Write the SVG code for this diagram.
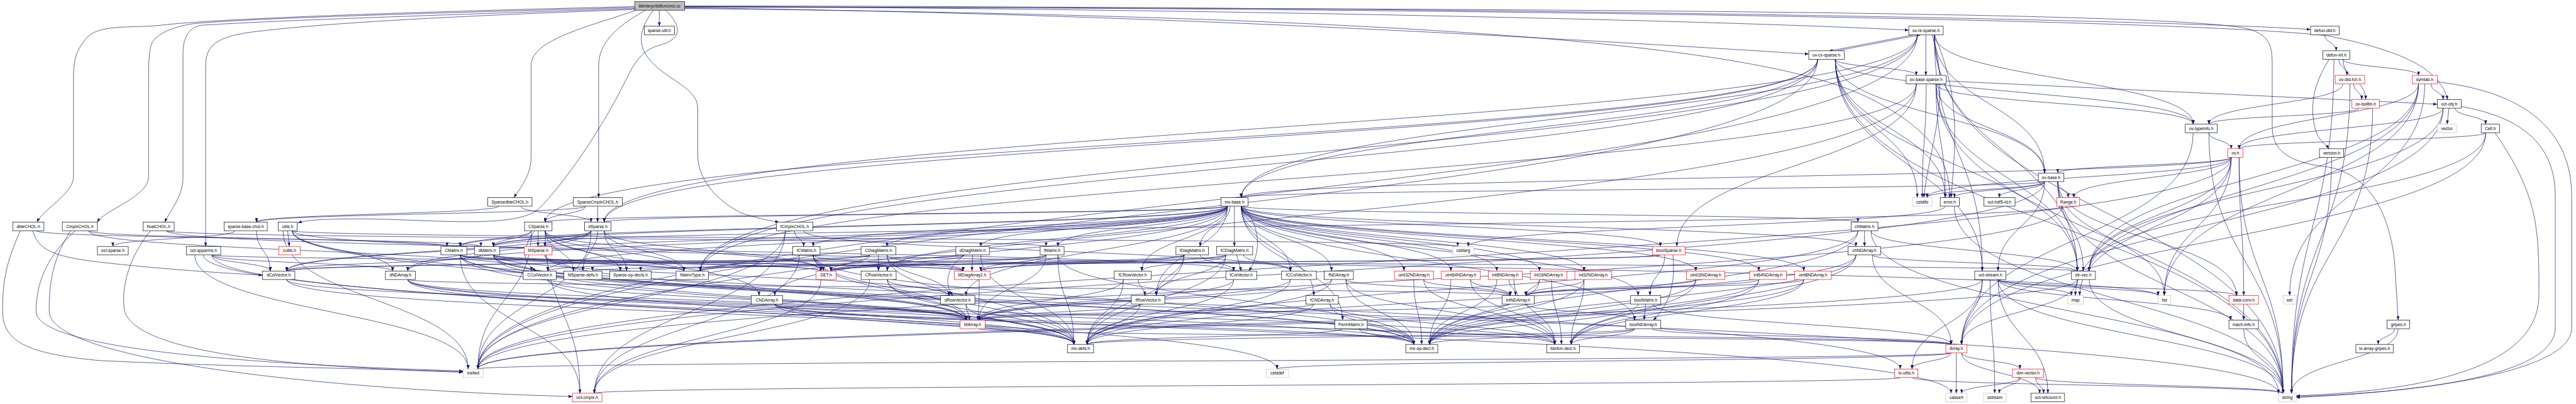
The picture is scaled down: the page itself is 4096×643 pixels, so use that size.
<svg xmlns="http://www.w3.org/2000/svg" width="4096" height="643" viewBox="0 0 4096 643">
<style>
.n rect{fill:#fff;stroke:#000;stroke-width:1.3}
.n.r rect{stroke:#f00}
.n.s rect{stroke:#bfbfbf}
.n.root rect{fill:#bfbfbf}
text{font-family:"Liberation Sans",Arial,Helvetica,sans-serif;font-size:13px;text-anchor:middle;fill:#000}
</style>
<defs>
<marker id="ah" viewBox="0 0 12 9" refX="12" refY="4.5" markerWidth="12" markerHeight="9" markerUnits="userSpaceOnUse" orient="auto"><path d="M0,0 L12,4.5 L0,9 z" fill="#191970"/></marker>
</defs>
<rect width="4096" height="643" fill="#fff"/>
<g transform="scale(0.52158)">
<g id="connectors" fill="none" stroke="#191970" stroke-width="1.3" marker-end="url(#ah)">
<path d="M 1935,20 C 1100,40 640,60 500,76 C 400,88 300,70 260,120 C 230,160 224,180 224,250 L 224,540 C 224,590 130,640 113,678"/>
<path d="M 1935,23 C 1100,45 700,60 585,73 C 540,80 470,100 460,140 C 453,170 453,200 453,250 L 453,540 C 453,600 320,640 296,678"/>
<path d="M 1935,26 C 1200,50 800,65 614,77 C 580,82 558,110 558,160 L 558,540 C 558,600 520,640 502,678"/>
<path d="M 1935,29 C 1200,55 900,80 752,100 C 660,115 627,140 627,200 L 627,752"/>
<path d="M 1940,31 C 1800,80 1619,120 1619,200 L 1619,480 C 1619,540 1580,580 1567,603"/>
<path d="M 1968,31 C 1900,70 1825,120 1825,200 L 1825,603"/>
<path d="M 2010,31 L 2010,80"/>
<path d="M 2029,31 C 2080,80 2080,120 2010,138 C 1950,155 1930,200 1900,260 C 1830,400 1720,560 1640,640 C 1560,700 1300,668 1100,668 C 1000,668 940,670 908,680"/>
<path d="M 1992,31 C 1955,80 1945,120 1965,160 C 2010,240 2127,260 2127,330 L 2127,470 C 2127,560 2200,620 2260,650 C 2320,670 2360,675 2375,678"/>
<path d="M 2087,20 C 3500,25 5200,60 5819,92"/>
<path d="M 2087,24 C 3500,40 4800,120 5514,165"/>
<path d="M 2087,18 C 4500,20 6600,60 7044,90"/>
<path d="M 2087,26 C 4500,50 5400,150 5700,300 C 5900,400 5944,500 5944,603"/>
<path d="M 2087,22 C 5000,25 6700,40 6860,90 C 6920,110 6927,140 6927,200 L 6927,390 C 6927,470 7000,500 7100,510 C 7250,540 7290,700 7300,800 L 7311,977"/>
<path d="M 2087,20 C 4500,25 6700,60 7100,110 C 7350,160 7440,220 7462,304"/>
<path d="M 5835,106 L 5575,156"/>
<path d="M 5871,106 L 5871,230"/>
<path d="M 5890,106 C 5950,300 5880,450 5865,603"/>
<path d="M 5897,106 C 5980,300 5960,450 5948,603"/>
<path d="M 5897,106 C 5897,317 6233,317 6233,528"/>
<path d="M 5845,106 C 5845,354 3784,354 3784,603"/>
<path d="M 5897,106 C 5897,466 6333,466 6333,827"/>
<path d="M 5897,106 C 5897,466 6043,466 6043,827"/>
<path d="M 5897,106 C 5897,242 6686,242 6686,379"/>
<path d="M 5845,106 C 5845,392 1842,392 1842,678"/>
<path d="M 5845,106 C 5845,466 2135,466 2135,827"/>
<path d="M 5845,106 C 5845,616 1457,616 1457,1126"/>
<path d="M 5897,106 C 5897,653 6960,653 6960,1200"/>
<path d="M 5600,155 L 5855,106"/>
<path d="M 5595,181 C 5595,205 5842,205 5842,230"/>
<path d="M 5595,181 C 5595,392 5845,392 5845,603"/>
<path d="M 5595,181 C 5595,392 5930,392 5930,603"/>
<path d="M 5595,181 C 5595,354 6233,354 6233,528"/>
<path d="M 5541,181 C 5541,392 3784,392 3784,603"/>
<path d="M 5595,181 C 5595,504 6333,504 6333,827"/>
<path d="M 5595,181 C 5595,504 6043,504 6043,827"/>
<path d="M 5595,181 C 5595,280 6686,280 6686,379"/>
<path d="M 5541,181 C 5541,429 1662,429 1662,678"/>
<path d="M 5541,181 C 5541,429 1842,429 1842,678"/>
<path d="M 5541,181 C 5541,504 2135,504 2135,827"/>
<path d="M 5541,181 C 5541,653 1457,653 1457,1126"/>
<path d="M 5595,181 C 5595,690 6960,690 6960,1200"/>
<path d="M 5872,256 C 5872,429 5860,429 5860,603"/>
<path d="M 5902,256 C 5902,429 5930,429 5930,603"/>
<path d="M 5902,256 C 5902,392 6233,392 6233,528"/>
<path d="M 5902,256 C 5902,541 6333,541 6333,827"/>
<path d="M 5902,256 C 5902,317 6686,317 6686,379"/>
<path d="M 5842,256 C 5842,504 5112,504 5112,752"/>
<path d="M 5842,256 C 5842,541 2135,541 2135,827"/>
<path d="M 5933,247 L 7430,318"/>
<path d="M 5842,256 C 5842,691 1457,691 1457,1126"/>
<path d="M 5902,256 C 5902,728 6960,728 6960,1200"/>
<path d="M 7087,106 C 7087,130 7122,130 7122,155"/>
<path d="M 7130,181 C 7130,205 7155,205 7155,230"/>
<path d="M 7143,181 C 7143,242 7212,242 7212,304"/>
<path d="M 7143,181 C 7143,205 7373,205 7373,230"/>
<path d="M 7101,181 C 7050,260 7040,330 7060,400 C 7070,430 7090,440 7100,454"/>
<path d="M 7115,181 C 7115,690 6986,690 6986,1200"/>
<path d="M 7175,256 C 7175,280 7200,280 7200,304"/>
<path d="M 7142,256 C 7142,317 6734,317 6734,379"/>
<path d="M 7164,256 C 7164,728 6986,728 6986,1200"/>
<path d="M 7411,256 C 7411,280 7448,280 7448,304"/>
<path d="M 7373,256 C 7373,355 6826,355 6826,454"/>
<path d="M 7373,256 C 7373,579 6598,579 6598,902"/>
<path d="M 7373,256 C 7373,579 6327,579 6327,902"/>
<path d="M 7392,256 C 7392,579 6980,579 6980,902"/>
<path d="M 7430,250 C 7700,280 7840,400 7840,600 L 7840,1000 C 7840,1150 7300,1200 7000,1213"/>
<path d="M 7373,256 C 7373,541 6369,541 6369,827"/>
<path d="M 7191,330 C 7191,354 6734,354 6734,379"/>
<path d="M 7233,330 C 7233,765 6986,765 6986,1200"/>
<path d="M 7466,330 L 7460,379"/>
<path d="M 7484,330 C 7484,354 7578,354 7578,379"/>
<path d="M 7448,330 C 7448,392 6826,392 6826,454"/>
<path d="M 7448,330 C 7448,690 5980,690 5980,1051"/>
<path d="M 7448,330 C 7448,578 6369,578 6369,827"/>
<path d="M 7503,325 C 7700,360 7790,450 7790,600 L 7790,1000 C 7790,1160 7300,1200 7000,1210"/>
<path d="M 7578,405 C 7578,429 6826,429 6826,454"/>
<path d="M 7578,405 C 7578,728 5980,728 5980,1051"/>
<path d="M 7578,405 C 7578,616 6369,616 6369,827"/>
<path d="M 7606,405 C 7740,600 7740,700 7740,900 C 7740,1150 7300,1195 7000,1208"/>
<path d="M 6734,405 C 6734,429 6802,429 6802,454"/>
<path d="M 6686,405 C 6686,728 5980,728 5980,1051"/>
<path d="M 6734,405 C 6734,802 6960,802 6960,1200"/>
<path d="M 6802,480 C 6802,504 6273,504 6273,528"/>
<path d="M 6802,480 C 6802,541 5875,541 5875,603"/>
<path d="M 6802,480 C 6802,541 6322,541 6322,603"/>
<path d="M 6826,480 C 6826,691 6840,691 6840,902"/>
<path d="M 6802,480 C 6802,541 3784,541 3784,603"/>
<path d="M 6802,480 C 6802,653 6369,653 6369,827"/>
<path d="M 6802,480 C 6802,691 6598,691 6598,902"/>
<path d="M 6802,480 C 6802,691 6340,691 6340,902"/>
<path d="M 6802,480 C 6802,803 1457,803 1457,1126"/>
<path d="M 6826,480 C 6826,840 6960,840 6960,1200"/>
<path d="M 7108,480 C 7108,840 6986,840 6986,1200"/>
<path d="M 6233,554 C 6233,578 5875,578 5875,603"/>
<path d="M 6233,554 C 6233,578 5958,578 5958,603"/>
<path d="M 6233,554 C 6233,578 6095,578 6095,603"/>
<path d="M 6273,554 C 6273,578 6305,578 6305,603"/>
<path d="M 6233,554 C 6233,578 3784,578 3784,603"/>
<path d="M 6273,554 C 6273,690 6351,690 6351,827"/>
<path d="M 6273,554 C 6273,728 6818,728 6818,902"/>
<path d="M 6273,554 C 6273,728 6598,728 6598,902"/>
<path d="M 6233,554 C 6233,840 1457,840 1457,1126"/>
<path d="M 6273,554 C 6273,877 6960,877 6960,1200"/>
<path d="M 6233,554 C 6233,690 6091,690 6091,827"/>
<path d="M 6288,629 C 6288,690 1504,690 1504,752"/>
<path d="M 6288,629 C 6288,877 1457,877 1457,1126"/>
<path d="M 1520,629 C 1520,653 782,653 782,678"/>
<path d="M 1588,629 C 1588,653 1802,653 1802,678"/>
<path d="M 1785,629 C 1785,653 782,653 782,678"/>
<path d="M 1822,629 L 1822,678"/>
<path d="M 1785,629 C 1785,653 1662,653 1662,678"/>
<path d="M 3784,629 C 3784,765 4994,765 4994,902"/>
<path d="M 3784,629 C 3784,653 5664,653 5664,678"/>
<path d="M 3742,629 C 3742,690 1504,690 1504,752"/>
<path d="M 3742,629 C 3742,690 1403,690 1403,752"/>
<path d="M 3742,629 C 3742,690 3225,690 3225,752"/>
<path d="M 3742,629 C 3742,690 2479,690 2479,752"/>
<path d="M 3742,629 C 3742,728 874,728 874,827"/>
<path d="M 3742,629 C 3742,728 1670,728 1670,827"/>
<path d="M 3790,629 C 3850,700 3840,780 3807,827"/>
<path d="M 3784,629 C 3784,728 3934,728 3934,827"/>
<path d="M 3742,629 C 3742,765 2945,765 2945,902"/>
<path d="M 3742,629 C 3742,728 2705,728 2705,827"/>
<path d="M 3742,629 C 3742,765 3525,765 3525,902"/>
<path d="M 3742,629 C 3742,728 3481,728 3481,827"/>
<path d="M 3742,629 C 3742,690 2990,690 2990,752"/>
<path d="M 3742,629 C 3742,690 2704,690 2704,752"/>
<path d="M 3750,629 C 3750,690 3659,690 3659,752"/>
<path d="M 3763,629 L 3763,752"/>
<path d="M 3784,629 C 3784,803 4093,803 4093,977"/>
<path d="M 3784,629 C 3784,803 4983,803 4983,977"/>
<path d="M 3784,629 C 3784,690 5658,690 5658,752"/>
<path d="M 3742,629 C 3742,728 1243,728 1243,827"/>
<path d="M 3742,629 C 3742,765 2362,765 2362,902"/>
<path d="M 3784,629 C 3784,728 4059,728 4059,827"/>
<path d="M 3784,629 C 3784,765 4005,765 4005,902"/>
<path d="M 3784,629 C 3784,728 4563,728 4563,827"/>
<path d="M 3784,629 C 3784,728 4693,728 4693,827"/>
<path d="M 3784,629 C 3784,728 4829,728 4829,827"/>
<path d="M 3784,629 C 3784,728 5362,728 5362,827"/>
<path d="M 3784,629 C 3784,728 5499,728 5499,827"/>
<path d="M 3784,629 C 3784,728 5170,728 5170,827"/>
<path d="M 3784,629 C 3784,728 4280,728 4280,827"/>
<path d="M 3784,629 C 3784,728 4423,728 4423,827"/>
<path d="M 3784,629 C 3784,690 5062,690 5062,752"/>
<path d="M 3742,629 C 3742,653 1662,653 1662,678"/>
<path d="M 3742,629 C 3742,653 1842,653 1842,678"/>
<path d="M 5930,629 C 5930,690 4476,690 4476,752"/>
<path d="M 5958,629 C 5958,914 6960,914 6960,1200"/>
<path d="M 110,704 C 110,728 1466,728 1466,752"/>
<path d="M 100,704 C 120,780 200,790 400,810 C 600,830 780,838 800,840"/>
<path d="M 62,704 C 20,800 8,850 8,950 C 8,1050 100,1080 300,1100 C 700,1120 1200,1125 1412,1135"/>
<path d="M 270,704 C 270,728 1363,728 1363,752"/>
<path d="M 270,704 C 270,765 1620,765 1620,827"/>
<path d="M 216,704 C 150,800 150,900 150,950 C 150,1100 1000,1190 1745,1210"/>
<path d="M 230,704 C 120,800 110,900 110,950 C 110,1060 700,1110 1412,1132"/>
<path d="M 507,704 C 507,728 3189,728 3189,752"/>
<path d="M 507,704 C 507,765 3761,765 3761,827"/>
<path d="M 459,704 C 380,800 370,900 380,950 C 420,1080 900,1120 1412,1136"/>
<path d="M 2422,704 C 2422,728 2450,728 2450,752"/>
<path d="M 2450,704 C 2450,765 3934,765 3934,827"/>
<path d="M 2394,704 C 2394,952 1812,952 1812,1200"/>
<path d="M 2394,704 C 2394,915 1457,915 1457,1126"/>
<path d="M 716,704 C 716,728 344,728 344,752"/>
<path d="M 782,704 C 782,765 824,765 824,827"/>
<path d="M 877,704 L 882,752"/>
<path d="M 891,704 C 891,765 1197,765 1197,827"/>
<path d="M 891,704 C 891,915 5793,915 5793,1126"/>
<path d="M 891,704 C 891,728 4444,728 4444,752"/>
<path d="M 891,704 C 891,803 6579,803 6579,902"/>
<path d="M 891,704 C 891,952 6946,952 6946,1200"/>
<path d="M 863,704 C 863,915 1427,915 1427,1126"/>
<path d="M 1620,704 C 1620,728 1403,728 1403,752"/>
<path d="M 1620,704 C 1620,728 1504,728 1504,752"/>
<path d="M 1662,704 C 1662,803 2314,803 2314,902"/>
<path d="M 1630,704 C 1590,760 1590,800 1635,827"/>
<path d="M 1641,704 L 1640,752"/>
<path d="M 1662,704 C 1662,765 1748,765 1748,827"/>
<path d="M 1662,704 C 1662,765 1891,765 1891,827"/>
<path d="M 1662,704 C 1662,765 2085,765 2085,827"/>
<path d="M 1662,704 C 1662,765 2503,765 2503,827"/>
<path d="M 1662,704 C 1662,952 1768,952 1768,1200"/>
<path d="M 1620,704 C 1620,915 1457,915 1457,1126"/>
<path d="M 1802,704 C 1802,728 1504,728 1504,752"/>
<path d="M 1802,704 C 1802,765 1243,765 1243,827"/>
<path d="M 1802,704 C 1802,765 874,765 874,827"/>
<path d="M 1802,704 C 1802,728 1661,728 1661,752"/>
<path d="M 1822,704 C 1822,765 1777,765 1777,827"/>
<path d="M 1842,704 C 1842,765 1910,765 1910,827"/>
<path d="M 1842,704 C 1842,765 2085,765 2085,827"/>
<path d="M 1842,704 C 1842,765 2503,765 2503,827"/>
<path d="M 1802,704 C 1802,915 1457,915 1457,1126"/>
<path d="M 5684,704 L 5684,752"/>
<path d="M 5704,704 C 5704,765 6333,765 6333,827"/>
<path d="M 5664,704 C 5664,877 3314,877 3314,1051"/>
<path d="M 5664,704 C 5664,877 4358,877 4358,1051"/>
<path d="M 5704,704 C 5704,952 6946,952 6946,1200"/>
<path d="M 646,778 C 646,802 824,802 824,827"/>
<path d="M 646,778 C 646,802 1197,802 1197,827"/>
<path d="M 646,778 C 646,802 6333,802 6333,827"/>
<path d="M 594,778 C 594,952 1427,952 1427,1126"/>
<path d="M 620,778 C 620,989 5948,989 5948,1200"/>
<path d="M 646,778 C 646,952 3893,952 3893,1126"/>
<path d="M 1403,778 C 1403,877 2946,877 2946,977"/>
<path d="M 1403,778 C 1403,802 2936,802 2936,827"/>
<path d="M 1403,778 C 1403,802 2085,802 2085,827"/>
<path d="M 1403,778 C 1403,914 3274,914 3274,1051"/>
<path d="M 1403,778 C 1403,914 4310,914 4310,1051"/>
<path d="M 1403,778 C 1403,989 1768,989 1768,1200"/>
<path d="M 1403,778 C 1403,802 2503,802 2503,827"/>
<path d="M 1504,778 C 1504,877 2946,877 2946,977"/>
<path d="M 1504,778 C 1504,802 2936,802 2936,827"/>
<path d="M 1504,778 C 1504,802 2085,802 2085,827"/>
<path d="M 1504,778 C 1504,914 3274,914 3274,1051"/>
<path d="M 1504,778 C 1504,914 4310,914 4310,1051"/>
<path d="M 1504,778 C 1504,802 2503,802 2503,827"/>
<path d="M 1504,778 C 1504,840 2893,840 2893,902"/>
<path d="M 1466,778 C 1466,802 874,802 874,827"/>
<path d="M 2479,778 C 2479,877 2946,877 2946,977"/>
<path d="M 2479,778 C 2479,802 2936,802 2936,827"/>
<path d="M 2437,778 C 2437,802 2135,802 2135,827"/>
<path d="M 2479,778 C 2479,914 3274,914 3274,1051"/>
<path d="M 2479,778 C 2479,914 4310,914 4310,1051"/>
<path d="M 2437,778 C 2437,989 1812,989 1812,1200"/>
<path d="M 2479,778 C 2479,802 2510,802 2510,827"/>
<path d="M 3189,778 C 3189,877 2984,877 2984,977"/>
<path d="M 3189,778 C 3189,802 2990,802 2990,827"/>
<path d="M 3189,778 C 3189,802 2135,802 2135,827"/>
<path d="M 3225,778 C 3225,914 3274,914 3274,1051"/>
<path d="M 3225,778 C 3225,914 4310,914 4310,1051"/>
<path d="M 3189,778 C 3189,802 2533,802 2533,827"/>
<path d="M 1661,778 C 1661,877 2946,877 2946,977"/>
<path d="M 1661,778 C 1661,802 1748,802 1748,827"/>
<path d="M 2704,778 C 2704,802 2936,802 2936,827"/>
<path d="M 2678,778 L 2678,827"/>
<path d="M 2652,778 C 2652,802 1670,802 1670,827"/>
<path d="M 2704,778 C 2704,840 2893,840 2893,902"/>
<path d="M 2652,778 C 2652,802 874,802 874,827"/>
<path d="M 2652,778 C 2652,802 2533,802 2533,827"/>
<path d="M 2704,778 C 2704,914 3274,914 3274,1051"/>
<path d="M 2965,778 L 2963,827"/>
<path d="M 2940,778 C 2880,820 2880,870 2905,902"/>
<path d="M 2940,778 C 2940,802 874,802 874,827"/>
<path d="M 2940,778 C 2940,802 2533,802 2533,827"/>
<path d="M 2990,778 C 2990,914 3274,914 3274,1051"/>
<path d="M 3609,778 C 3609,802 2990,802 2990,827"/>
<path d="M 3609,778 C 3609,840 3525,840 3525,902"/>
<path d="M 3659,778 C 3659,802 3761,802 3761,827"/>
<path d="M 3609,778 C 3609,802 2533,802 2533,827"/>
<path d="M 3609,778 C 3609,914 3314,914 3314,1051"/>
<path d="M 3737,778 C 3737,802 2990,802 2990,827"/>
<path d="M 3737,778 C 3737,840 3525,840 3525,902"/>
<path d="M 3737,778 C 3737,802 3481,802 3481,827"/>
<path d="M 3770,778 L 3784,827"/>
<path d="M 3791,778 C 3791,802 3934,802 3934,827"/>
<path d="M 3737,778 C 3737,802 2533,802 2533,827"/>
<path d="M 3737,778 C 3737,914 3314,914 3314,1051"/>
<path d="M 5075,778 C 5075,840 5030,840 5030,902"/>
<path d="M 5100,778 C 5110,880 5080,940 5040,977"/>
<path d="M 5062,778 C 5062,802 1806,802 1806,827"/>
<path d="M 5062,778 C 5062,802 1953,802 1953,827"/>
<path d="M 5708,778 C 5708,914 5948,914 5948,1051"/>
<path d="M 5708,778 C 5708,802 6333,802 6333,827"/>
<path d="M 5658,778 C 5658,914 4358,914 4358,1051"/>
<path d="M 5658,778 C 5658,914 4790,914 4790,1051"/>
<path d="M 5658,778 C 5658,914 3314,914 3314,1051"/>
<path d="M 874,853 C 874,915 2946,915 2946,977"/>
<path d="M 874,853 C 874,952 3274,952 3274,1051"/>
<path d="M 1243,853 C 1243,915 2946,915 2946,977"/>
<path d="M 1243,853 C 1243,877 4604,877 4604,902"/>
<path d="M 1243,853 C 1243,952 3274,952 3274,1051"/>
<path d="M 1243,853 C 1243,952 4310,952 4310,1051"/>
<path d="M 1243,853 C 1243,952 4740,952 4740,1051"/>
<path d="M 1670,853 C 1670,915 2946,915 2946,977"/>
<path d="M 1670,853 C 1670,952 3274,952 3274,1051"/>
<path d="M 2503,853 C 2503,1026 1812,1026 1812,1200"/>
<path d="M 2705,853 C 2705,915 2946,915 2946,977"/>
<path d="M 2705,853 C 2705,877 2893,877 2893,902"/>
<path d="M 2705,853 C 2705,952 3274,952 3274,1051"/>
<path d="M 2651,853 C 2651,1026 1812,1026 1812,1200"/>
<path d="M 2985,853 C 2985,915 2985,940 2980,977"/>
<path d="M 3425,853 C 3425,915 2984,915 2984,977"/>
<path d="M 3470,853 C 3470,877 3490,877 3490,902"/>
<path d="M 3425,853 C 3425,952 3314,952 3314,1051"/>
<path d="M 3761,853 C 3761,915 2984,915 2984,977"/>
<path d="M 3761,853 C 3761,952 3314,952 3314,1051"/>
<path d="M 3934,853 C 3934,915 2984,915 2984,977"/>
<path d="M 3934,853 C 3934,952 3314,952 3314,1051"/>
<path d="M 4059,853 C 4059,915 2984,915 2984,977"/>
<path d="M 4103,853 C 4103,877 4604,877 4604,902"/>
<path d="M 4059,853 C 4059,952 3314,952 3314,1051"/>
<path d="M 4103,853 C 4103,952 4310,952 4310,1051"/>
<path d="M 4103,853 C 4103,952 4740,952 4740,1051"/>
<path d="M 4340,853 C 4340,877 4604,877 4604,902"/>
<path d="M 4310,853 C 4310,952 4334,952 4334,1051"/>
<path d="M 4340,853 C 4340,952 4740,952 4740,1051"/>
<path d="M 4483,853 C 4483,877 4604,877 4604,902"/>
<path d="M 4423,853 C 4423,952 4358,952 4358,1051"/>
<path d="M 4483,853 C 4483,952 4740,952 4740,1051"/>
<path d="M 4600,853 C 4600,877 4620,877 4620,902"/>
<path d="M 4563,853 C 4563,952 4358,952 4358,1051"/>
<path d="M 4615,853 C 4615,952 4740,952 4740,1051"/>
<path d="M 4693,853 C 4693,877 4652,877 4652,902"/>
<path d="M 4693,853 C 4693,952 4358,952 4358,1051"/>
<path d="M 4730,853 C 4730,952 4760,952 4760,1051"/>
<path d="M 4829,853 C 4829,877 4652,877 4652,902"/>
<path d="M 4829,853 C 4829,952 4358,952 4358,1051"/>
<path d="M 4829,853 C 4829,952 4790,952 4790,1051"/>
<path d="M 5170,853 C 5170,877 4652,877 4652,902"/>
<path d="M 5170,853 C 5170,952 4358,952 4358,1051"/>
<path d="M 5170,853 C 5170,952 4790,952 4790,1051"/>
<path d="M 5362,853 C 5362,877 4652,877 4652,902"/>
<path d="M 5362,853 C 5362,952 4358,952 4358,1051"/>
<path d="M 5362,853 C 5362,952 4790,952 4790,1051"/>
<path d="M 5499,853 C 5499,877 4652,877 4652,902"/>
<path d="M 5499,853 C 5499,952 4358,952 4358,1051"/>
<path d="M 5499,853 C 5499,952 4790,952 4790,1051"/>
<path d="M 6091,853 C 6091,877 6315,877 6315,902"/>
<path d="M 6043,853 C 6043,952 5980,952 5980,1051"/>
<path d="M 6043,853 C 6043,989 5829,989 5829,1126"/>
<path d="M 6067,853 C 6067,1026 6081,1026 6081,1200"/>
<path d="M 6091,853 C 6091,1026 6960,1026 6960,1200"/>
<path d="M 6091,853 C 6091,877 6818,877 6818,902"/>
<path d="M 6091,853 C 6091,915 6800,915 6800,977"/>
<path d="M 6091,853 C 6091,877 6579,877 6579,902"/>
<path d="M 6043,853 C 6043,989 1457,989 1457,1126"/>
<path d="M 6091,853 C 6091,1026 6243,1026 6243,1200"/>
<path d="M 6333,853 C 6333,952 5980,952 5980,1051"/>
<path d="M 6369,853 C 6369,1026 6960,1026 6960,1200"/>
<path d="M 6333,853 C 6333,989 1457,989 1457,1126"/>
<path d="M 2362,928 C 2362,952 2946,952 2946,977"/>
<path d="M 2362,928 C 2362,989 3274,989 3274,1051"/>
<path d="M 2362,928 C 2362,989 4310,989 4310,1051"/>
<path d="M 2362,928 C 2362,989 4740,989 4740,1051"/>
<path d="M 2945,928 C 2945,952 2955,952 2955,977"/>
<path d="M 2945,928 C 2945,989 3274,989 3274,1051"/>
<path d="M 3475,928 C 3475,952 2984,952 2984,977"/>
<path d="M 3475,928 C 3475,989 3314,989 3314,1051"/>
<path d="M 4005,928 C 4005,952 2984,952 2984,977"/>
<path d="M 4005,928 C 4005,989 3314,989 3314,1051"/>
<path d="M 4055,928 C 4055,989 4310,989 4310,1051"/>
<path d="M 4055,928 C 4055,989 4740,989 4740,1051"/>
<path d="M 4604,928 C 4604,952 2984,952 2984,977"/>
<path d="M 4652,928 C 4652,952 4983,952 4983,977"/>
<path d="M 5017,928 L 5012,977"/>
<path d="M 4994,928 C 4994,989 4358,989 4358,1051"/>
<path d="M 5040,928 C 5040,989 5948,989 5948,1051"/>
<path d="M 6840,928 L 6840,977"/>
<path d="M 2984,1003 C 2984,1027 5948,1027 5948,1051"/>
<path d="M 4143,1003 C 4143,1027 5948,1027 5948,1051"/>
<path d="M 4093,1003 C 4093,1027 3314,1027 3314,1051"/>
<path d="M 4143,1003 C 4143,1027 4310,1027 4310,1051"/>
<path d="M 5037,1003 C 5037,1027 5948,1027 5948,1051"/>
<path d="M 4983,1003 C 4983,1027 3314,1027 3314,1051"/>
<path d="M 4983,1003 C 4983,1027 4358,1027 4358,1051"/>
<path d="M 4983,1003 C 4983,1027 4790,1027 4790,1051"/>
<path d="M 6840,1003 C 6840,1101 6960,1101 6960,1200"/>
<path d="M 7300,1003 C 7300,1027 7250,1027 7250,1051"/>
<path d="M 7311,1003 C 7311,1101 6986,1101 6986,1200"/>
<path d="M 5948,1077 C 5948,1101 5829,1101 5829,1126"/>
<path d="M 5980,1077 C 5980,1101 6158,1101 6158,1126"/>
<path d="M 5964,1077 L 5964,1200"/>
<path d="M 5980,1077 C 5980,1138 6218,1138 6218,1200"/>
<path d="M 5948,1077 C 5948,1101 3893,1101 3893,1126"/>
<path d="M 5948,1077 C 5948,1101 1457,1101 1457,1126"/>
<path d="M 5793,1152 C 5793,1176 1812,1176 1812,1200"/>
<path d="M 5829,1152 C 5829,1176 6960,1176 6960,1200"/>
<path d="M 6158,1152 C 6158,1176 5980,1176 5980,1200"/>
<path d="M 6158,1152 C 6158,1176 6095,1176 6095,1200"/>
<path d="M 6206,1152 C 6206,1176 6230,1176 6230,1200"/>
<path d="M 6206,1152 C 6206,1176 6960,1176 6960,1200"/>
</g>
<g id="n-root" class="n root"><rect x="1935" y="5" width="152" height="26"/><text x="2011" y="22.5">libinterp/dldfcn/chol.cc</text></g>
<g id="n-sparseutil" class="n"><rect x="1964" y="80" width="92" height="26"/><text x="2010" y="97.5">sparse-util.h</text></g>
<g id="n-ovre" class="n"><rect x="5819" y="80" width="105" height="26"/><text x="5871.5" y="97.5">ov-re-sparse.h</text></g>
<g id="n-defundld" class="n"><rect x="7044" y="80" width="87" height="26"/><text x="7087.5" y="97.5">defun-dld.h</text></g>
<g id="n-ovcx" class="n"><rect x="5514" y="155" width="108" height="26"/><text x="5568" y="172.5">ov-cx-sparse.h</text></g>
<g id="n-defunint" class="n"><rect x="7081" y="155" width="83" height="26"/><text x="7122.5" y="172.5">defun-int.h</text></g>
<g id="n-ovbasesparse" class="n"><rect x="5811" y="230" width="122" height="26"/><text x="5872" y="247.5">ov-base-sparse.h</text></g>
<g id="n-ovdldfcn" class="n r"><rect x="7119" y="230" width="90" height="26"/><text x="7164" y="247.5">ov-dld-fcn.h</text></g>
<g id="n-symtab" class="n r"><rect x="7354" y="230" width="76" height="26"/><text x="7392" y="247.5">symtab.h</text></g>
<g id="n-ovbuiltin" class="n r"><rect x="7170" y="304" width="84" height="26"/><text x="7212" y="321.5">ov-builtin.h</text></g>
<g id="n-octobj" class="n"><rect x="7430" y="304" width="73" height="26"/><text x="7466.5" y="321.5">oct-obj.h</text></g>
<g id="n-ovtypeinfo" class="n"><rect x="6662" y="379" width="97" height="26"/><text x="6710.5" y="396.5">ov-typeinfo.h</text></g>
<g id="n-vector" class="n s"><rect x="7430" y="379" width="59" height="26"/><text x="7459.5" y="396.5">vector</text></g>
<g id="n-cell" class="n"><rect x="7564" y="379" width="56" height="26"/><text x="7592" y="396.5">Cell.h</text></g>
<g id="n-ovh" class="n r"><rect x="6791" y="454" width="47" height="26"/><text x="6814.5" y="471.5">ov.h</text></g>
<g id="n-version" class="n"><rect x="7071" y="454" width="74" height="26"/><text x="7108" y="471.5">version.h</text></g>
<g id="n-ovbase" class="n"><rect x="6214" y="528" width="78" height="26"/><text x="6253" y="545.5">ov-base.h</text></g>
<g id="n-SparsedbleCHOL" class="n"><rect x="1487" y="603" width="135" height="26"/><text x="1554.5" y="620.5">SparsedbleCHOL.h</text></g>
<g id="n-SparseCmplxCHOL" class="n"><rect x="1748" y="603" width="149" height="26"/><text x="1822.5" y="620.5">SparseCmplxCHOL.h</text></g>
<g id="n-mxbase" class="n"><rect x="3722" y="603" width="83" height="26"/><text x="3763.5" y="620.5">mx-base.h</text></g>
<g id="n-cstdlib" class="n s"><rect x="5830" y="603" width="60" height="26"/><text x="5860" y="620.5">cstdlib</text></g>
<g id="n-error" class="n"><rect x="5915" y="603" width="58" height="26"/><text x="5944" y="620.5">error.h</text></g>
<g id="n-hdf5" class="n"><rect x="6048" y="603" width="95" height="26"/><text x="6095.5" y="620.5">oct-hdf5-id.h</text></g>
<g id="n-range" class="n r"><rect x="6270" y="603" width="70" height="26"/><text x="6305" y="620.5">Range.h</text></g>
<g id="n-dbleCHOL" class="n"><rect x="39" y="678" width="95" height="26"/><text x="86.5" y="695.5">dbleCHOL.h</text></g>
<g id="n-CmplxCHOL" class="n"><rect x="190" y="678" width="107" height="26"/><text x="243.5" y="695.5">CmplxCHOL.h</text></g>
<g id="n-floatCHOL" class="n"><rect x="436" y="678" width="95" height="26"/><text x="483.5" y="695.5">floatCHOL.h</text></g>
<g id="n-sparsebasechol" class="n"><rect x="683" y="678" width="132" height="26"/><text x="749" y="695.5">sparse-base-chol.h</text></g>
<g id="n-utils" class="n"><rect x="848" y="678" width="58" height="26"/><text x="877" y="695.5">utils.h</text></g>
<g id="n-CSparse" class="n"><rect x="1599" y="678" width="84" height="26"/><text x="1641" y="695.5">CSparse.h</text></g>
<g id="n-dSparse" class="n"><rect x="1782" y="678" width="81" height="26"/><text x="1822.5" y="695.5">dSparse.h</text></g>
<g id="n-fCmplxCHOL" class="n"><rect x="2367" y="678" width="111" height="26"/><text x="2422.5" y="695.5">fCmplxCHOL.h</text></g>
<g id="n-chMatrix" class="n"><rect x="5643" y="678" width="82" height="26"/><text x="5684" y="695.5">chMatrix.h</text></g>
<g id="n-octsparse" class="n"><rect x="297" y="752" width="94" height="26"/><text x="344" y="769.5">oct-sparse.h</text></g>
<g id="n-octspparms" class="n"><rect x="568" y="752" width="105" height="26"/><text x="620.5" y="769.5">oct-spparms.h</text></g>
<g id="n-cutils" class="n r"><rect x="850" y="752" width="65" height="26"/><text x="882.5" y="769.5">cutils.h</text></g>
<g id="n-CMatrix" class="n"><rect x="1344" y="752" width="79" height="26"/><text x="1383.5" y="769.5">CMatrix.h</text></g>
<g id="n-dMatrix" class="n"><rect x="1447" y="752" width="76" height="26"/><text x="1485" y="769.5">dMatrix.h</text></g>
<g id="n-MSparse" class="n r"><rect x="1598" y="752" width="85" height="26"/><text x="1640.5" y="769.5">MSparse.h</text></g>
<g id="n-fCMatrix" class="n"><rect x="2417" y="752" width="83" height="26"/><text x="2458.5" y="769.5">fCMatrix.h</text></g>
<g id="n-CDiagMatrix" class="n"><rect x="2625" y="752" width="106" height="26"/><text x="2678" y="769.5">CDiagMatrix.h</text></g>
<g id="n-dDiagMatrix" class="n"><rect x="2914" y="752" width="102" height="26"/><text x="2965" y="769.5">dDiagMatrix.h</text></g>
<g id="n-fMatrix" class="n"><rect x="3171" y="752" width="73" height="26"/><text x="3207.5" y="769.5">fMatrix.h</text></g>
<g id="n-fDiagMatrix" class="n"><rect x="3585" y="752" width="99" height="26"/><text x="3634.5" y="769.5">fDiagMatrix.h</text></g>
<g id="n-fCDiagMatrix" class="n"><rect x="3709" y="752" width="110" height="26"/><text x="3764" y="769.5">fCDiagMatrix.h</text></g>
<g id="n-cstdarg" class="n s"><rect x="4428" y="752" width="65" height="26"/><text x="4460.5" y="769.5">cstdarg</text></g>
<g id="n-boolSparse" class="n r"><rect x="5038" y="752" width="99" height="26"/><text x="5087.5" y="769.5">boolSparse.h</text></g>
<g id="n-chNDArray" class="n"><rect x="5634" y="752" width="99" height="26"/><text x="5683.5" y="769.5">chNDArray.h</text></g>
<g id="n-dColVector" class="n"><rect x="800" y="827" width="99" height="26"/><text x="849.5" y="844.5">dColVector.h</text></g>
<g id="n-dNDArray" class="n"><rect x="1175" y="827" width="91" height="26"/><text x="1220.5" y="844.5">dNDArray.h</text></g>
<g id="n-CColVector" class="n"><rect x="1595" y="827" width="101" height="26"/><text x="1645.5" y="844.5">CColVector.h</text></g>
<g id="n-MSparsedefs" class="n"><rect x="1719" y="827" width="116" height="26"/><text x="1777" y="844.5">MSparse-defs.h</text></g>
<g id="n-Sparseopdecls" class="n"><rect x="1859" y="827" width="126" height="26"/><text x="1922" y="844.5">Sparse-op-decls.h</text></g>
<g id="n-MatrixType" class="n"><rect x="2061" y="827" width="99" height="26"/><text x="2110.5" y="844.5">MatrixType.h</text></g>
<g id="n-DET" class="n r"><rect x="2488" y="827" width="61" height="26"/><text x="2518.5" y="844.5">DET.h</text></g>
<g id="n-CRowVector" class="n"><rect x="2625" y="827" width="107" height="26"/><text x="2678.5" y="844.5">CRowVector.h</text></g>
<g id="n-MDiagArray2" class="n r"><rect x="2909" y="827" width="109" height="26"/><text x="2963.5" y="844.5">MDiagArray2.h</text></g>
<g id="n-fCRowVector" class="n"><rect x="3397" y="827" width="112" height="26"/><text x="3453" y="844.5">fCRowVector.h</text></g>
<g id="n-fColVector" class="n"><rect x="3737" y="827" width="94" height="26"/><text x="3784" y="844.5">fColVector.h</text></g>
<g id="n-fCColVector" class="n"><rect x="3907" y="827" width="106" height="26"/><text x="3960" y="844.5">fCColVector.h</text></g>
<g id="n-fNDArray" class="n"><rect x="4037" y="827" width="89" height="26"/><text x="4081.5" y="844.5">fNDArray.h</text></g>
<g id="n-uint32" class="n r"><rect x="4251" y="827" width="119" height="26"/><text x="4310.5" y="844.5">uint32NDArray.h</text></g>
<g id="n-uint64" class="n r"><rect x="4394" y="827" width="119" height="26"/><text x="4453.5" y="844.5">uint64NDArray.h</text></g>
<g id="n-int8" class="n r"><rect x="4537" y="827" width="104" height="26"/><text x="4589" y="844.5">int8NDArray.h</text></g>
<g id="n-int16" class="n r"><rect x="4665" y="827" width="112" height="26"/><text x="4721" y="844.5">int16NDArray.h</text></g>
<g id="n-int32" class="n r"><rect x="4801" y="827" width="112" height="26"/><text x="4857" y="844.5">int32NDArray.h</text></g>
<g id="n-uint16" class="n r"><rect x="5141" y="827" width="117" height="26"/><text x="5199.5" y="844.5">uint16NDArray.h</text></g>
<g id="n-int64" class="n r"><rect x="5334" y="827" width="112" height="26"/><text x="5390" y="844.5">int64NDArray.h</text></g>
<g id="n-uint8" class="n r"><rect x="5471" y="827" width="112" height="26"/><text x="5527" y="844.5">uint8NDArray.h</text></g>
<g id="n-octstream" class="n"><rect x="6020" y="827" width="95" height="26"/><text x="6067.5" y="844.5">oct-stream.h</text></g>
<g id="n-strvec" class="n"><rect x="6315" y="827" width="73" height="26"/><text x="6351.5" y="844.5">str-vec.h</text></g>
<g id="n-CNDArray" class="n"><rect x="2290" y="902" width="96" height="26"/><text x="2338" y="919.5">CNDArray.h</text></g>
<g id="n-dRowVector" class="n"><rect x="2867" y="902" width="105" height="26"/><text x="2919.5" y="919.5">dRowVector.h</text></g>
<g id="n-fRowVector" class="n"><rect x="3449" y="902" width="102" height="26"/><text x="3500" y="919.5">fRowVector.h</text></g>
<g id="n-fCNDArray" class="n"><rect x="3981" y="902" width="99" height="26"/><text x="4030.5" y="919.5">fCNDArray.h</text></g>
<g id="n-intNDArray" class="n"><rect x="4579" y="902" width="98" height="26"/><text x="4628" y="919.5">intNDArray.h</text></g>
<g id="n-boolMatrix" class="n"><rect x="4971" y="902" width="92" height="26"/><text x="5017" y="919.5">boolMatrix.h</text></g>
<g id="n-map" class="n s"><rect x="6304" y="902" width="47" height="26"/><text x="6327.5" y="919.5">map</text></g>
<g id="n-list" class="n s"><rect x="6579" y="902" width="39" height="26"/><text x="6598.5" y="919.5">list</text></g>
<g id="n-dataconv" class="n r"><rect x="6795" y="902" width="90" height="26"/><text x="6840" y="919.5">data-conv.h</text></g>
<g id="n-set" class="n s"><rect x="6960" y="902" width="40" height="26"/><text x="6980" y="919.5">set</text></g>
<g id="n-MArray" class="n r"><rect x="2927" y="977" width="76" height="26"/><text x="2965" y="994.5">MArray.h</text></g>
<g id="n-PermMatrix" class="n"><rect x="4069" y="977" width="99" height="26"/><text x="4118.5" y="994.5">PermMatrix.h</text></g>
<g id="n-boolNDArray" class="n"><rect x="4956" y="977" width="107" height="26"/><text x="5009.5" y="994.5">boolNDArray.h</text></g>
<g id="n-machinfo" class="n"><rect x="6795" y="977" width="90" height="26"/><text x="6840" y="994.5">mach-info.h</text></g>
<g id="n-gripes" class="n"><rect x="7277" y="977" width="69" height="26"/><text x="7311.5" y="994.5">gripes.h</text></g>
<g id="n-mxdefs" class="n"><rect x="3254" y="1051" width="80" height="26"/><text x="3294" y="1068.5">mx-defs.h</text></g>
<g id="n-mxopdecl" class="n"><rect x="4286" y="1051" width="97" height="26"/><text x="4334.5" y="1068.5">mx-op-decl.h</text></g>
<g id="n-bsxfun" class="n"><rect x="4715" y="1051" width="100" height="26"/><text x="4765" y="1068.5">bsxfun-decl.h</text></g>
<g id="n-Array" class="n r"><rect x="5932" y="1051" width="64" height="26"/><text x="5964" y="1068.5">Array.h</text></g>
<g id="n-loarraygripes" class="n"><rect x="7182" y="1051" width="114" height="26"/><text x="7239" y="1068.5">lo-array-gripes.h</text></g>
<g id="n-iosfwd" class="n s"><rect x="1412" y="1126" width="61" height="26"/><text x="1442.5" y="1143.5">iosfwd</text></g>
<g id="n-cstddef" class="n s"><rect x="3860" y="1126" width="67" height="26"/><text x="3893.5" y="1143.5">cstddef</text></g>
<g id="n-loutils" class="n r"><rect x="5776" y="1126" width="71" height="26"/><text x="5811.5" y="1143.5">lo-utils.h</text></g>
<g id="n-dimvector" class="n r"><rect x="6135" y="1126" width="95" height="26"/><text x="6182.5" y="1143.5">dim-vector.h</text></g>
<g id="n-octcmplx" class="n r"><rect x="1745" y="1200" width="90" height="26"/><text x="1790" y="1217.5">oct-cmplx.h</text></g>
<g id="n-cassert" class="n s"><rect x="5932" y="1200" width="64" height="26"/><text x="5964" y="1217.5">cassert</text></g>
<g id="n-sstream" class="n s"><rect x="6047" y="1200" width="69" height="26"/><text x="6081.5" y="1217.5">sstream</text></g>
<g id="n-octrefcount" class="n"><rect x="6192" y="1200" width="102" height="26"/><text x="6243" y="1217.5">oct-refcount.h</text></g>
<g id="n-string" class="n s"><rect x="6946" y="1200" width="54" height="26"/><text x="6973" y="1217.5">string</text></g>
</g>
</svg>
